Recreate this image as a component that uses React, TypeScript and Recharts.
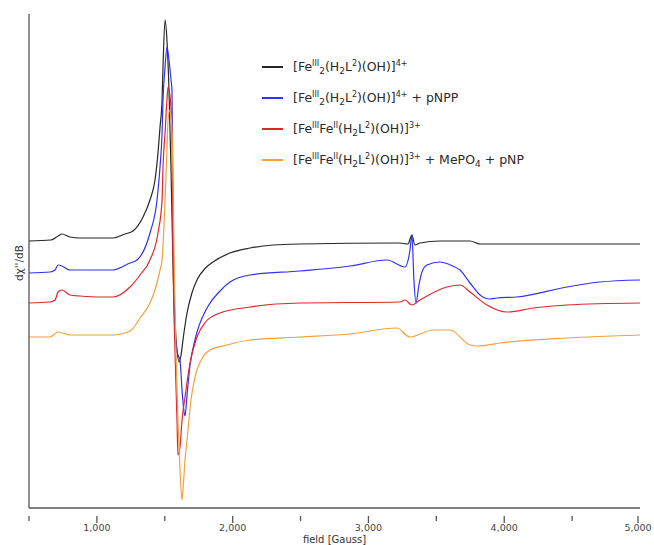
import React from "react"
import { LineChart, Line, XAxis, YAxis } from "recharts"

// field [Gauss] and signal (arbitrary units)
const feIII2 = [
  [500, 267], [662, 268], [714, 272], [743, 274], [802, 271], [876, 270], [1118, 270],
  [1207, 274], [1266, 277], [1340, 291], [1391, 308], [1428, 328], [1450, 355], [1465, 381],
  [1480, 408], [1487, 441], [1502, 488], [1516, 468], [1531, 418], [1546, 338], [1560, 248],
  [1575, 188], [1590, 158], [1605, 146], [1620, 153], [1634, 168], [1664, 195], [1700, 215],
  [1737, 228], [1800, 240], [1855, 246], [1980, 255], [2128, 260], [2300, 263], [2496, 264],
  [3232, 265], [3291, 264], [3320, 273], [3342, 263], [3380, 265], [3527, 267], [3748, 267],
  [3822, 264], [5000, 264],
]

const feIII2pNPP = [
  [500, 235], [655, 236], [692, 238], [714, 243], [743, 242], [802, 238], [1118, 238],
  [1244, 245], [1296, 248], [1391, 275], [1443, 308], [1465, 341], [1480, 375], [1487, 408],
  [1502, 441], [1516, 461], [1531, 448], [1546, 428], [1553, 418], [1560, 308], [1568, 208],
  [1582, 163], [1597, 153], [1612, 148], [1627, 118], [1642, 96], [1649, 92], [1664, 113],
  [1686, 143], [1722, 168], [1815, 201], [1900, 216], [1980, 226], [2128, 233], [2496, 237],
  [2864, 242], [3137, 248], [3269, 241], [3306, 258], [3320, 273], [3335, 228], [3350, 205],
  [3372, 223], [3394, 236], [3431, 243], [3527, 246], [3620, 242], [3674, 238], [3748, 225],
  [3822, 213], [3890, 209], [3947, 210], [4093, 211], [4461, 221], [4704, 226], [5000, 228],
]

const feIIIFeII = [
  [500, 205], [655, 206], [692, 208], [714, 216], [743, 218], [802, 213], [876, 212],
  [1023, 211], [1118, 211], [1244, 221], [1318, 233], [1391, 248], [1450, 275], [1480, 308],
  [1487, 341], [1502, 375], [1516, 408], [1524, 421], [1538, 413], [1553, 378], [1560, 258],
  [1575, 158], [1590, 88], [1597, 53], [1612, 61], [1627, 88], [1649, 111], [1686, 145],
  [1737, 171], [1800, 186], [1906, 195], [2128, 201], [2496, 205], [3232, 206], [3269, 208],
  [3320, 203], [3380, 208], [3578, 221], [3674, 223], [3748, 216], [3873, 203], [4020, 196],
  [4212, 200], [4461, 203], [5000, 205],
]

const feIIIFeIIMePO4 = [
  [500, 171], [655, 171], [714, 176], [802, 173], [1118, 173], [1244, 177], [1318, 190],
  [1391, 205], [1428, 218], [1465, 238], [1480, 248], [1502, 308], [1516, 358], [1524, 388],
  [1538, 398], [1553, 378], [1568, 258], [1582, 158], [1597, 88], [1612, 38], [1627, 8],
  [1634, 18], [1649, 48], [1664, 68], [1693, 108], [1708, 121], [1781, 151], [1833, 158],
  [1958, 163], [2128, 168], [2496, 171], [2864, 174], [3210, 180], [3305, 171], [3475, 178],
  [3600, 178], [3748, 163], [3800, 162], [3969, 165], [4461, 170], [5000, 173],
]

const fieldTicks = [500, 1000, 1500, 2000, 2500, 3000, 3500, 4000, 4500, 5000]

const toPoints = (rows: number[][]) => rows.map(([field, signal]) => ({ field, signal }))

const series = [
  { key: "a", data: toPoints(feIII2), color: "#262626" },
  { key: "b", data: toPoints(feIII2pNPP), color: "#3232f2" },
  { key: "c", data: toPoints(feIIIFeII), color: "#e3242b" },
  { key: "d", data: toPoints(feIIIFeIIMePO4), color: "#f4a13c" },
]

const font = "DejaVu Sans, sans-serif"

const sub = (t: string) => <sub style={{ fontSize: 9, verticalAlign: "-3px", lineHeight: 0 }}>{t}</sub>
const sup = (t: string) => <sup style={{ fontSize: 8, verticalAlign: "5px", lineHeight: 0 }}>{t}</sup>

const labels = [
  <>[Fe{sup("III")}{sub("2")}(H{sub("2")}L{sup("2")})(OH)]{sup("4+")}</>,
  <>[Fe{sup("III")}{sub("2")}(H{sub("2")}L{sup("2")})(OH)]{sup("4+")} + pNPP</>,
  <>[Fe{sup("III")}Fe{sup("II")}(H{sub("2")}L{sup("2")})(OH)]{sup("3+")}</>,
  <>[Fe{sup("III")}Fe{sup("II")}(H{sub("2")}L{sup("2")})(OH)]{sup("3+")} + MePO{sub("4")} + pNP</>,
]

const LegendBox = () => (
  <div style={{ position: "absolute", left: 262, top: 51, fontFamily: font, fontSize: 12.5, color: "#2a2a2a" }}>
    {series.map((s, i) => (
      <div key={s.key} style={{ display: "flex", alignItems: "center", height: 31 }}>
        <span style={{ display: "inline-block", width: 21, height: 2, background: s.color, marginRight: 10 }} />
        <span style={{ whiteSpace: "nowrap" }}>{labels[i]}</span>
      </div>
    ))}
  </div>
)

const FieldTick = (props: any) => {
  const { x, y, payload } = props
  const major = payload.value % 1000 === 0
  return (
    <g>
      <line x1={x} x2={x} y1={y} y2={y + (major ? 7 : 5)} stroke="#555" strokeWidth={1.3} />
      {major && payload.value !== 500 && (
        <text x={x} y={y + 15} textAnchor="middle" fontSize={9.5} fill="#444" fontFamily={font}>
          {payload.value.toLocaleString("en-US")}
        </text>
      )}
    </g>
  )
}

const App = () => {
  return (
    <div style={{ position: "absolute", left: 0, top: 0, width: 654, height: 545, background: "#fff" }}>
      <LineChart width={654} height={545} margin={{ top: 14, right: 14, bottom: 0, left: 0 }}>
        <XAxis
          type="number"
          dataKey="field"
          domain={[500, 5000]}
          ticks={fieldTicks}
          allowDataOverflow
          tickLine={false}
          tick={<FieldTick />}
          height={37}
          axisLine={{ stroke: "#555", strokeWidth: 1.3 }}
          label={{ value: "field [Gauss]", position: "insideBottom", offset: 2, fontSize: 10, fill: "#333", fontFamily: font }}
        />
        <YAxis
          type="number"
          domain={[0, 494]}
          width={29}
          tick={false}
          tickLine={false}
          axisLine={{ stroke: "#555", strokeWidth: 1.3 }}
          label={{ value: "dχ''/dB", angle: -90, position: "insideLeft", offset: 19, dy: 20, fontSize: 10.5, fill: "#333", fontFamily: font }}
        />
        {series.map((s) => (
          <Line
            key={s.key}
            data={s.data}
            dataKey="signal"
            type="monotone"
            stroke={s.color}
            strokeWidth={1.2}
            dot={false}
            isAnimationActive={false}
          />
        ))}
      </LineChart>
      <LegendBox />
    </div>
  )
}

export default App
